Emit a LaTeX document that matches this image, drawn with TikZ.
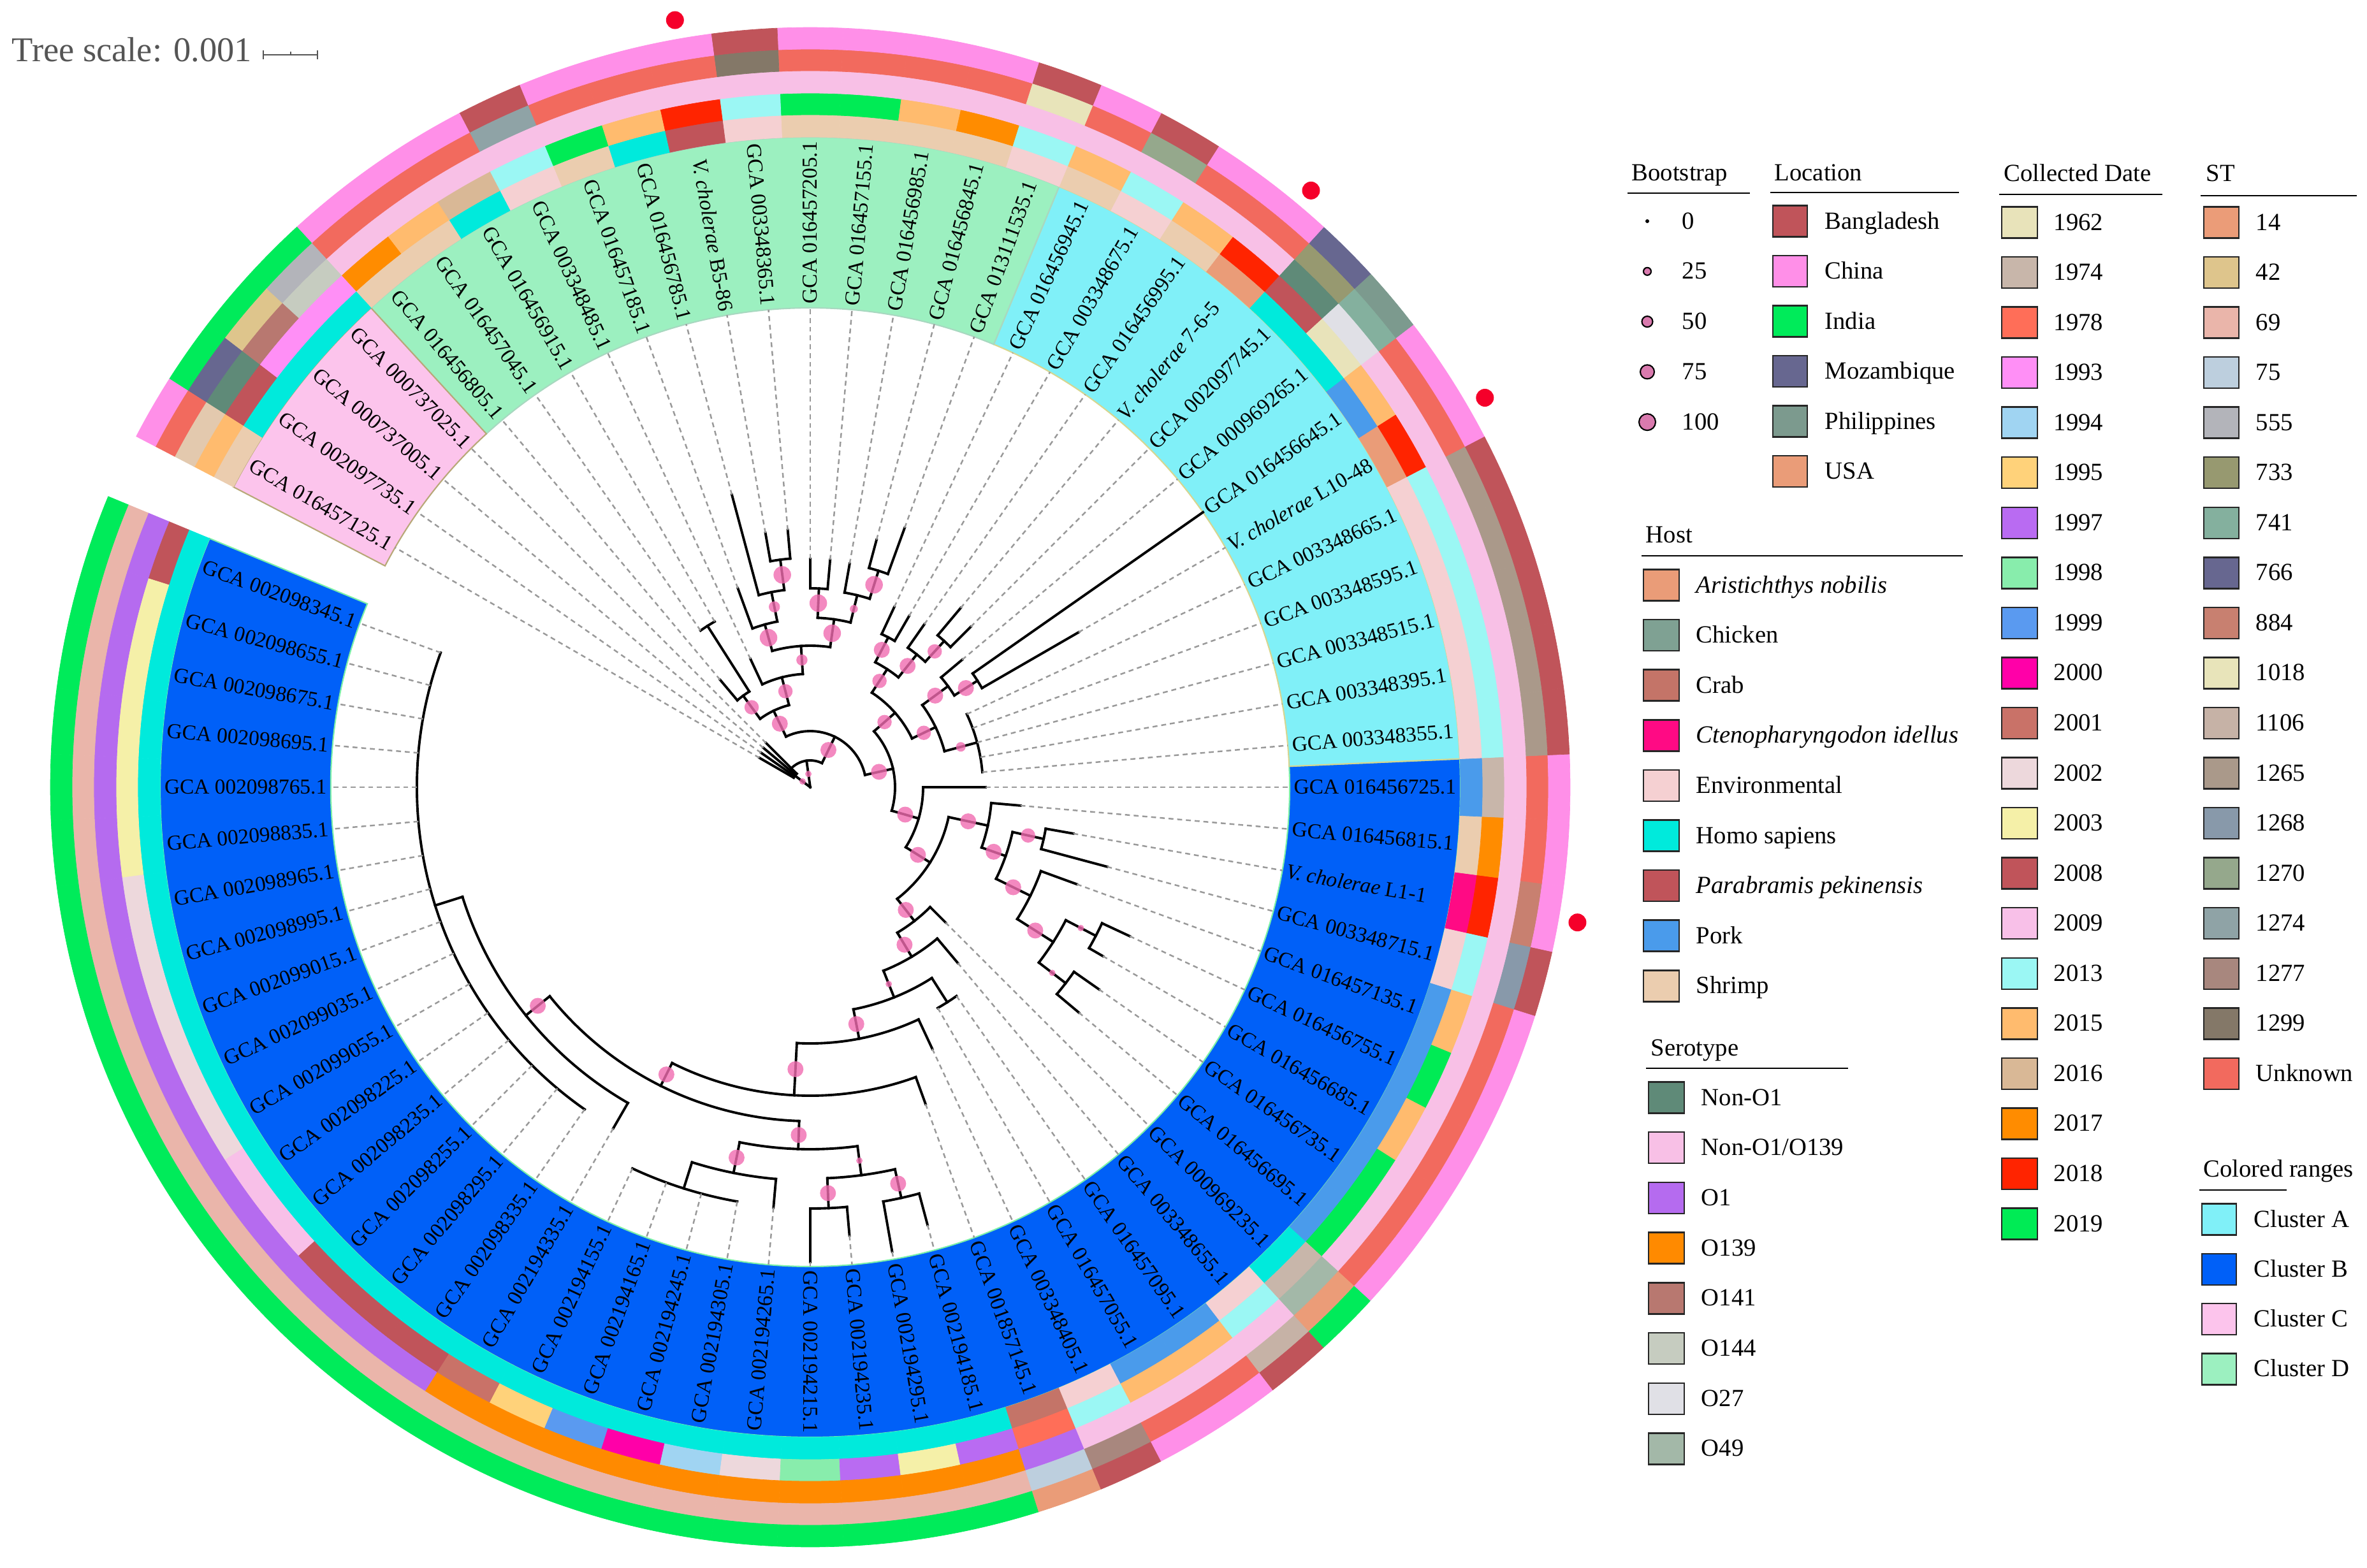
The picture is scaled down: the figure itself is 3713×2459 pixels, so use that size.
\documentclass[tikz,border=0pt]{standalone}
\usepackage{fontspec}
\setmainfont{Liberation Serif}

% colored ranges
\definecolor{clA}{HTML}{80F0F8}\definecolor{clB}{HTML}{0060F8}
\definecolor{clC}{HTML}{FCC4EC}\definecolor{clD}{HTML}{9CF0C0}
\definecolor{clAline}{HTML}{D6D690}\definecolor{clBline}{HTML}{7CF0A8}
\definecolor{clCline}{HTML}{B8A878}\definecolor{clDline}{HTML}{A8D8C0}
% location
\definecolor{lBan}{HTML}{C0545A}\definecolor{lChn}{HTML}{FF8FE8}
\definecolor{lInd}{HTML}{00EB5A}\definecolor{lMoz}{HTML}{676790}
\definecolor{lPhi}{HTML}{7C9A8E}\definecolor{lUSA}{HTML}{EA9C78}
% host
\definecolor{hAri}{HTML}{EA9C78}\definecolor{hChi}{HTML}{7FA193}
\definecolor{hCrab}{HTML}{C47468}\definecolor{hCten}{HTML}{FF0A84}
\definecolor{hEnv}{HTML}{F5D0D2}\definecolor{hHomo}{HTML}{00EADC}
\definecolor{hPara}{HTML}{C0545A}\definecolor{hPork}{HTML}{4A9BEB}
\definecolor{hShr}{HTML}{EBCDAF}
% serotype
\definecolor{sNon}{HTML}{5F8A78}\definecolor{sNonOO}{HTML}{F8C0E6}
\definecolor{sOa}{HTML}{B56BEF}\definecolor{sOb}{HTML}{FF8A00}
\definecolor{sOc}{HTML}{B87870}\definecolor{sOd}{HTML}{C6CCC0}
\definecolor{sOe}{HTML}{E0E0E6}\definecolor{sOf}{HTML}{A3B8A8}
\definecolor{sTan}{HTML}{E3C9AE}
% collected date
\definecolor{d1962}{HTML}{E8E3BA}\definecolor{d1974}{HTML}{C8B6AA}
\definecolor{d1978}{HTML}{FF6E58}\definecolor{d1993}{HTML}{FF8FF6}
\definecolor{d1994}{HTML}{A0D4F2}\definecolor{d1995}{HTML}{FFD27A}
\definecolor{d1997}{HTML}{B96BF2}\definecolor{d1998}{HTML}{88EDAC}
\definecolor{d1999}{HTML}{5A9AF0}\definecolor{d2000}{HTML}{FF00A8}
\definecolor{d2001}{HTML}{C97268}\definecolor{d2002}{HTML}{EDD8DC}
\definecolor{d2003}{HTML}{F5F0A8}\definecolor{d2008}{HTML}{C0545A}
\definecolor{d2009}{HTML}{F8C0E8}\definecolor{d2013}{HTML}{9BF7F4}
\definecolor{d2015}{HTML}{FFBB6E}\definecolor{d2016}{HTML}{D9B896}
\definecolor{d2017}{HTML}{FF8C00}\definecolor{d2018}{HTML}{FF2400}
\definecolor{d2019}{HTML}{00EB55}
% ST
\definecolor{t14}{HTML}{EB9C78}\definecolor{t42}{HTML}{DEC58C}
\definecolor{t69}{HTML}{EAB5AA}\definecolor{t75}{HTML}{BDCFDE}
\definecolor{t555}{HTML}{B3B4BA}\definecolor{t733}{HTML}{979970}
\definecolor{t741}{HTML}{84B09E}\definecolor{t766}{HTML}{676790}
\definecolor{t884}{HTML}{C88070}\definecolor{t1018}{HTML}{E8E4BA}
\definecolor{t1106}{HTML}{C6B2A6}\definecolor{t1265}{HTML}{AA998A}
\definecolor{t1268}{HTML}{8899AA}\definecolor{t1270}{HTML}{95A88C}
\definecolor{t1274}{HTML}{8FA3A6}\definecolor{t1277}{HTML}{A8877E}
\definecolor{t1299}{HTML}{847868}\definecolor{tUnk}{HTML}{F26A5E}
% misc
\definecolor{bootpink}{HTML}{F06CB0}\definecolor{bootleg}{HTML}{D97AAE}
\definecolor{refred}{HTML}{F5002A}\definecolor{scalegray}{HTML}{555555}

\tikzset{
  branch/.style={line width=1.1pt, black, line cap=rect},
  leafline/.style={black!40, line width=0.7pt, dash pattern=on 2.2pt off 1.7pt},
  leaflab/.style={font=\fontsize{9.5}{11}\selectfont, inner sep=0pt},
  bootdot/.style={fill=bootpink, fill opacity=0.8},
  refdot/.style={fill=refred},
  legtitle/.style={font=\fontsize{11}{13}\selectfont, anchor=base west, inner sep=0pt},
  legtext/.style={font=\fontsize{11}{13}\selectfont, anchor=base west, inner sep=0pt},
  legbox/.style={draw=black!85, line width=0.7pt},
  legrule/.style={line width=0.8pt},
}

% one ring cell: colour, angle, inner and outer radius
\newcommand\ringseg[4]{%
  \filldraw[fill=#1, draw=#1, line width=0.2pt] ({#2-2.5}:#3) arc[start angle={#2-2.5}, end angle={#2+2.5}, radius=#3]
    -- ({#2+2.5}:#4) arc[start angle={#2+2.5}, end angle={#2-2.5}, radius=#4] -- cycle;}
% coloured range behind the labels
\newcommand\band[4]{%
  \filldraw[fill=#1, draw=#2, line width=0.6pt] (#3:752) arc[start angle=#3, end angle=#4, radius=752]
    -- (#4:1020) arc[start angle=#4, end angle=#3, radius=1020] -- cycle;}
% clade: angle, parent radius, node radius, arc from, arc to, bootstrap size
\newcommand\clade[6]{%
  \draw[branch] (#1:#2) -- (#1:#3);
  \draw[branch] (#4:#3) arc[start angle=#4, end angle=#5, radius=#3];
  \ifdim#6pt>0pt \fill[bootdot] (#1:{(#2+#3)/2}) circle[radius={#6*1.25}];\fi}
% leaf: angle, parent radius, tip radius
\newcommand\tip[3]{%
  \ifdim#3pt>#2pt \draw[branch] (#1:#2) -- (#1:#3);\fi
  \draw[leafline] (#1:#3) -- (#1:752);}
\newcommand\nonoo{Non-O1/O139}

\begin{document}
\begin{tikzpicture}[x=0.01cm, y=0.01cm]
\useasboundingbox (-1271,-1224) rectangle (2442,1235);

% colored ranges
\band{clB}{clBline}{157.5}{362.5}
\band{clA}{clAline}{2.5}{67.5}
\band{clD}{clDline}{67.5}{132.5}
\band{clC}{clCline}{132.5}{152.5}

% rings (host, date, serotype, ST, location) and leaf labels
\foreach \ang/\lab/\ha/\da/\se/\st/\lo in {
  160/GCA 002098345.1/hHomo/d2008/sOa/t69/lInd,
  165/GCA 002098655.1/hHomo/d2003/sOa/t69/lInd,
  170/GCA 002098675.1/hHomo/d2003/sOa/t69/lInd,
  175/GCA 002098695.1/hHomo/d2003/sOa/t69/lInd,
  180/GCA 002098765.1/hHomo/d2003/sOa/t69/lInd,
  185/GCA 002098835.1/hHomo/d2003/sOa/t69/lInd,
  190/GCA 002098965.1/hHomo/d2002/sOa/t69/lInd,
  195/GCA 002098995.1/hHomo/d2002/sOa/t69/lInd,
  200/GCA 002099015.1/hHomo/d2002/sOa/t69/lInd,
  205/GCA 002099035.1/hHomo/d2002/sOa/t69/lInd,
  210/GCA 002099055.1/hHomo/d2002/sOa/t69/lInd,
  215/GCA 002098225.1/hHomo/d2009/sOa/t69/lInd,
  220/GCA 002098235.1/hHomo/d2009/sOa/t69/lInd,
  225/GCA 002098255.1/hHomo/d2008/sOa/t69/lInd,
  230/GCA 002098295.1/hHomo/d2008/sOa/t69/lInd,
  235/GCA 002098335.1/hHomo/d2008/sOa/t69/lInd,
  240/GCA 002194335.1/hHomo/d2001/sOb/t69/lInd,
  245/GCA 002194155.1/hHomo/d1995/sOb/t69/lInd,
  250/GCA 002194165.1/hHomo/d1999/sOb/t69/lInd,
  255/GCA 002194245.1/hHomo/d2000/sOb/t69/lInd,
  260/GCA 002194305.1/hHomo/d1994/sOb/t69/lInd,
  265/GCA 002194265.1/hHomo/d2002/sOb/t69/lInd,
  270/GCA 002194215.1/hHomo/d1998/sOb/t69/lInd,
  275/GCA 002194235.1/hHomo/d1997/sOb/t69/lInd,
  280/GCA 002194295.1/hHomo/d2003/sOb/t69/lInd,
  285/GCA 002194185.1/hHomo/d1997/sOb/t69/lInd,
  290/GCA 001857145.1/hCrab/d1978/sOa/t75/lUSA,
  295/GCA 003348405.1/hEnv/d2013/sNonOO/t1277/lBan,
  300/GCA 016457055.1/hPork/d2015/sNonOO/tUnk/lChn,
  305/GCA 016457095.1/hPork/d2015/sNonOO/tUnk/lChn,
  310/GCA 003348655.1/hEnv/d2013/sNonOO/t1106/lBan,
  315/GCA 000969235.1/hHomo/d1974/sOf/t14/lInd,
  320/GCA 016456695.1/hPork/d2019/sNonOO/tUnk/lChn,
  325/GCA 016456735.1/hPork/d2019/sNonOO/tUnk/lChn,
  330/GCA 016456685.1/hPork/d2015/sNonOO/tUnk/lChn,
  335/GCA 016456755.1/hPork/d2019/sNonOO/tUnk/lChn,
  340/GCA 016457135.1/hPork/d2015/sNonOO/tUnk/lChn,
  345/GCA 003348715.1/hEnv/d2013/sNonOO/t1268/lBan,
  350/{\textit{V. cholerae} L1-1}/hCten/d2018/sNonOO/t884/lChn,
  355/GCA 016456815.1/hShr/d2017/sNonOO/tUnk/lChn,
  360/GCA 016456725.1/hPork/d1974/sNonOO/tUnk/lChn,
  5/GCA 003348355.1/hEnv/d2013/sNonOO/t1265/lBan,
  10/GCA 003348395.1/hEnv/d2013/sNonOO/t1265/lBan,
  15/GCA 003348515.1/hEnv/d2013/sNonOO/t1265/lBan,
  20/GCA 003348595.1/hEnv/d2013/sNonOO/t1265/lBan,
  25/GCA 003348665.1/hEnv/d2013/sNonOO/t1265/lBan,
  30/{\textit{V. cholerae} L10-48}/hAri/d2018/sNonOO/tUnk/lChn,
  35/GCA 016456645.1/hPork/d2015/sNonOO/tUnk/lChn,
  40/GCA 000969265.1/hHomo/d1962/sOe/t741/lPhi,
  45/GCA 002097745.1/hHomo/d2008/sNon/t733/lMoz,
  50/{\textit{V. cholerae} 7-6-5}/hAri/d2018/sNonOO/tUnk/lChn,
  55/GCA 016456995.1/hShr/d2015/sNonOO/tUnk/lChn,
  60/GCA 003348675.1/hEnv/d2013/sNonOO/t1270/lBan,
  65/GCA 016456945.1/hShr/d2015/sNonOO/tUnk/lChn,
  70/GCA 013111535.1/hEnv/d2013/sNonOO/t1018/lBan,
  75/GCA 016456845.1/hShr/d2017/sNonOO/tUnk/lChn,
  80/GCA 016456985.1/hShr/d2015/sNonOO/tUnk/lChn,
  85/GCA 016457155.1/hShr/d2019/sNonOO/tUnk/lChn,
  90/GCA 016457205.1/hShr/d2019/sNonOO/tUnk/lChn,
  95/GCA 003348365.1/hEnv/d2013/sNonOO/t1299/lBan,
  100/{\textit{V. cholerae} B5-86}/hPara/d2018/sNonOO/tUnk/lChn,
  105/GCA 016456785.1/hHomo/d2015/sNonOO/tUnk/lChn,
  110/GCA 016457185.1/hShr/d2019/sNonOO/tUnk/lChn,
  115/GCA 003348485.1/hEnv/d2013/sNonOO/t1274/lBan,
  120/GCA 016456915.1/hHomo/d2016/sNonOO/tUnk/lChn,
  125/GCA 016457045.1/hShr/d2015/sNonOO/tUnk/lChn,
  130/GCA 016456805.1/hShr/d2017/sNonOO/tUnk/lChn,
  135/GCA 000737025.1/hHomo/d1993/sOd/t555/lInd,
  140/GCA 000737005.1/hHomo/d1993/sOc/t42/lInd,
  145/GCA 002097735.1/hHomo/d2008/sNon/t766/lInd,
  150/GCA 016457125.1/hShr/d2015/sTan/tUnk/lChn}{
  \ringseg{\ha}{\ang}{1020}{1055}
  \ringseg{\da}{\ang}{1055}{1089}
  \ringseg{\se}{\ang}{1089}{1124}
  \ringseg{\st}{\ang}{1124}{1158}
  \ringseg{\lo}{\ang}{1158}{1192}
  \pgfmathtruncatemacro\flip{(\ang>90)&&(\ang<270)}
  \ifnum\flip=1
    \node[leaflab, anchor=east, rotate=\ang-180] at (\ang:758) {\lab};
  \else
    \node[leaflab, anchor=west, rotate=\ang] at (\ang:758) {\lab};
  \fi
}

% tree: root and cluster C
\draw[branch] (0,0) -- (98:42);
\draw[branch] (0,0) -- (143:30);
\draw[branch] (64:42) arc[start angle=64, end angle=130, radius=42];
\fill[bootdot] (98:21) circle[radius=5];
\fill[bootdot] (143:15) circle[radius=5];
\draw[branch] (135:30) arc[start angle=135, end angle=150, radius=30];
\tip{135}{30}{98} \tip{140}{30}{96} \tip{145}{30}{94} \tip{150}{30}{92}
\clade{64}{42}{88}{12.6}{115.6}{10}

% cluster D
\clade{115.6}{88}{133}{104.5}{126.25}{10}
\clade{126.25}{133}{178}{122.5}{130}{9}
\clade{122.5}{178}{300}{120}{125}{0}
\tip{120}{300}{300} \tip{125}{300}{300} \tip{130}{178}{220}
\clade{104.5}{133}{178}{93.75}{115}{9}
\tip{115}{178}{222}
\clade{93.75}{178}{222}{81.9}{105.6}{7}
\clade{105.6}{222}{265}{101.25}{110}{11}
\tip{110}{265}{332}
\clade{101.25}{265}{312}{97.5}{105}{7}
\tip{105}{312}{475}
\clade{97.5}{312}{360}{95}{100}{11}
\tip{95}{360}{405} \tip{100}{360}{405}
\clade{81.9}{222}{266}{76.25}{87.5}{11}
\clade{87.5}{266}{312}{85}{90}{11}
\tip{85}{312}{358} \tip{90}{312}{358}
\clade{76.25}{266}{310}{72.5}{80}{5}
\tip{80}{310}{356}
\clade{72.5}{310}{356}{70}{75}{11}
\tip{75}{356}{402} \tip{70}{356}{433}

% cluster A
\clade{12.6}{88}{133}{-16.1}{41.25}{10}
\clade{41.25}{133}{177}{25.6}{56.9}{9}
\clade{25.6}{177}{218}{15}{36.25}{9}
\clade{15}{218}{271}{5}{25}{6}
\foreach \a in {5,10,...,25} {\tip{\a}{271}{271}}
\clade{36.25}{218}{268}{32.5}{40}{10}
\tip{40}{268}{311}
\clade{32.5}{268}{311}{30}{35}{10}
\tip{30}{311}{486} \tip{35}{311}{752}
\clade{56.9}{177}{221}{51.25}{62.5}{9}
\clade{51.25}{221}{267}{47.5}{55}{10}
\tip{55}{267}{312}
\clade{47.5}{267}{311}{45}{50}{9}
\tip{50}{311}{367} \tip{45}{311}{356}
\clade{62.5}{221}{265}{60}{65}{10}
\tip{60}{265}{310} \tip{65}{265}{312}

% cluster B
\clade{343.9}{133}{177}{327.85}{360}{10}
\tip{360}{177}{275}
\clade{327.85}{177}{222}{307.9}{347.8}{10}
\clade{347.8}{222}{285}{340.6}{355}{10}
\tip{355}{285}{331}
\clade{340.6}{285}{325}{333.75}{347.5}{10}
\clade{347.5}{325}{375}{345}{350}{9}
\tip{350}{375}{419} \tip{345}{375}{482}
\clade{333.75}{325}{385}{327.5}{340}{10}
\tip{340}{385}{445}
\clade{327.5}{385}{452}{322.5}{332.5}{10}
\clade{332.5}{452}{505}{330}{335}{4}
\tip{335}{505}{553} \tip{330}{505}{530}
\clade{322.5}{452}{505}{320}{325}{4}
\tip{325}{505}{553} \tip{320}{505}{550}
\clade{307.9}{222}{266}{300.9}{315}{10}
\tip{315}{266}{300}
\clade{300.9}{266}{310}{291.75}{310}{10}
\tip{310}{310}{360}
\clade{291.75}{310}{355}{281}{302.5}{4}
\clade{302.5}{355}{400}{300}{305}{0}
\tip{300}{400}{400} \tip{305}{400}{400}
\clade{281}{355}{402}{267}{295}{10}
\tip{295}{402}{453}
\clade{267}{402}{484}{243.4}{290}{10}
\tip{290}{484}{529}
\clade{243.4}{484}{524}{218.75}{268.1}{10}
\clade{218.75}{524}{572}{197.5}{240}{10}
\tip{240}{572}{618}
\clade{197.5}{572}{617}{160}{235}{0}
\foreach \a in {160,165,...,235} {\tip{\a}{617}{617}}
\clade{268.1}{524}{568}{258.75}{277.5}{10}
\clade{258.75}{568}{617}{252.5}{265}{10}
\tip{265}{617}{662}
\clade{252.5}{617}{660}{245}{260}{0}
\foreach \a in {245,250,255,260} {\tip{\a}{660}{660}}
\clade{277.5}{568}{614}{272.5}{282.5}{4}
\clade{272.5}{614}{661}{270}{275}{10}
\tip{270}{661}{745} \tip{275}{661}{706}
\clade{282.5}{614}{660}{280}{285}{10}
\tip{280}{660}{740} \tip{285}{660}{711}

% reference strains
\foreach \a in {30,50,100,350} {\fill[refdot] (\a:1222) circle[radius=14];}

% tree scale
\node[anchor=base west, inner sep=0pt, font=\fontsize{15.5}{18}\selectfont, text=scalegray] (scaleLab) at (-1253,1138) {Tree scale: 0.001};
\draw[scalegray, line width=0.8pt] (-858,1149) -- (-773,1149);
\draw[scalegray, line width=0.8pt] (-858,1142) -- (-858,1156) (-773,1142) -- (-773,1156) (-815,1149) -- (-815,1154);

% legend: bootstrap
\node[legtitle] (bsTitle) at (1288,952) {Bootstrap};
\draw[legrule] (1282,932) -- (1474,932);
\foreach \s/\t [count=\i from 0] in {3/0, 6/25, 8.5/50, 11/75, 13/100} {
  \ifnum\i=0 \fill[black] (1313,{888-78.8*\i}) circle[radius=\s];
  \else \filldraw[fill=bootleg, draw=black, line width=0.6pt] (1313,{888-78.8*\i}) circle[radius=\s];\fi
  \node[legtext] at (1367,{876-78.8*\i}) {\t};
}

% legend: location
\node[legtitle] (locTitle) at (1512,952) {Location};
\draw[legrule] (1506,933) -- (1802,933);
\foreach \c/\t [count=\i from 0] in {lBan/Bangladesh, lChn/China, lInd/India, lMoz/Mozambique, lPhi/Philippines, lUSA/USA} {
  \draw[legbox, fill=\c] (1510,{863.5-78.5*\i}) rectangle ++(54,49);
  \node[legtext] at (1591,{876-78.5*\i}) {\t};
}

% legend: host
\node[legtitle] (hostTitle) at (1310,384) {Host};
\draw[legrule] (1304,363) -- (1808,363);
\foreach \c/\t [count=\i from 0] in {hAri/\textit{Aristichthys nobilis}, hChi/Chicken, hCrab/Crab,
    hCten/\textit{Ctenopharyngodon idellus}, hEnv/Environmental, hHomo/Homo sapiens,
    hPara/\textit{Parabramis pekinensis}, hPork/Pork, hShr/Shrimp} {
  \draw[legbox, fill=\c] (1307,{292.5-78.6*\i}) rectangle ++(56,49);
  \node[legtext] at (1389,{305-78.6*\i}) {\t};
}

% legend: serotype
\node[legtitle] (seroTitle) at (1318,-421) {Serotype};
\draw[legrule] (1311,-441) -- (1628,-441);
\foreach \c/\t [count=\i from 0] in {sNon/Non-O1, sNonOO/\nonoo, sOa/O1, sOb/O139, sOc/O141, sOd/O144, sOe/O27, sOf/O49} {
  \draw[legbox, fill=\c] (1315,{-511.5-78.7*\i}) rectangle ++(56,49);
  \node[legtext] at (1397,{-499-78.7*\i}) {\t};
}

% legend: collected date
\node[legtitle] (dateTitle) at (1872,951) {Collected Date};
\draw[legrule] (1865,930) -- (2121,930);
\foreach \y [count=\i from 0] in {1962,1974,1978,1993,1994,1995,1997,1998,1999,2000,2001,2002,2003,2008,2009,2013,2015,2016,2017,2018,2019} {
  \draw[legbox, fill=d\y] (1869,{861.5-78.55*\i}) rectangle ++(56,49);
  \node[legtext] at (1950,{874-78.55*\i}) {\y};
}

% legend: ST
\node[legtitle] (stTitle) at (2189,951) {ST};
\draw[legrule] (2181,928) -- (2426,928);
\foreach \c/\t [count=\i from 0] in {t14/14, t42/42, t69/69, t75/75, t555/555, t733/733, t741/741, t766/766, t884/884,
    t1018/1018, t1106/1106, t1265/1265, t1268/1268, t1270/1270, t1274/1274, t1277/1277, t1299/1299, tUnk/Unknown} {
  \draw[legbox, fill=\c] (2186,{861.5-78.55*\i}) rectangle ++(55,49);
  \node[legtext] at (2267,{874-78.55*\i}) {\t};
}

% legend: colored ranges
\node[legtitle] (rangeTitle) at (2185,-611) {Colored ranges};
\draw[legrule] (2179,-632) -- (2316,-632);
\foreach \c/\t [count=\i from 0] in {clA/Cluster A, clB/Cluster B, clC/Cluster C, clD/Cluster D} {
  \draw[legbox, fill=\c] (2183,{-702.5-78.3*\i}) rectangle ++(54,49);
  \node[legtext] at (2264,{-690-78.3*\i}) {\t};
}
\end{tikzpicture}
\end{document}
